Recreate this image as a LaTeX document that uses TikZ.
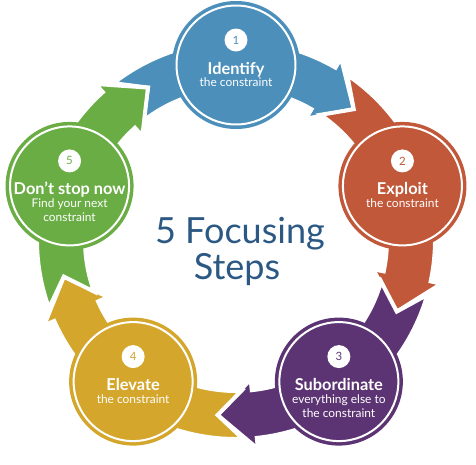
\documentclass[tikz,border=0pt]{standalone}
\usepackage{fontspec}
\setmainfont{Lato}
\usetikzlibrary{positioning}
\definecolor{myblue}{RGB}{75,143,186}
\definecolor{myorange}{RGB}{192,88,57}
\definecolor{mypurple}{RGB}{92,52,115}
\definecolor{myyellow}{RGB}{212,166,44}
\definecolor{mygreen}{RGB}{106,173,69}
\definecolor{mynavy}{RGB}{44,88,132}

\begin{document}
\begin{tikzpicture}[
  x=0.02cm, y=0.02cm,
  myarrow/.style={
    fill=#1,
    draw=white,
    line width=0.08cm,
    line join=miter
    },
  mycircle/.style={
    circle,
    fill=#1,
    draw=white,
    line width=0.04cm,
    minimum size=2.38cm,
    inner sep=0
    },
  mybadge/.style={
    circle,
    fill=white,
    text=#1,
    minimum size=0.46cm,
    inner sep=0,
    font=\fontsize{6.5}{6.5}\selectfont
    },
  mylabel/.style={
    text=white,
    anchor=base,
    inner sep=0,
    font=\bfseries\fontsize{9.3}{9.3}\selectfont
    },
  mysub/.style={
    text=white,
    anchor=base,
    inner sep=0,
    font=\fontsize{6.8}{6.8}\selectfont
    },
  mybig/.style={
    text=mynavy,
    anchor=base,
    inner sep=0,
    font=\fontsize{20.5}{20.5}\selectfont
  }
]

\useasboundingbox (-236,-224) rectangle (240,240);

\foreach \ang/\col in {90/myblue, 18/myorange, -54/mypurple, -126/myyellow, 162/mygreen}
    \filldraw[myarrow=\col] (\ang+38:199) arc[start angle=\ang+38, end angle=\ang-30, radius=199]
        -- (\ang-30:210) -- (\ang-42:176) -- (\ang-30:140) -- (\ang-30:151)
        arc[start angle=\ang-30, end angle=\ang+38, radius=151] -- (\ang+30:176) -- cycle;

\foreach \n/\ang/\col/\ttl/\subA/\subB in {1/90/myblue/Identify/the constraint/{},
    2/18/myorange/Exploit/the constraint/{},
    3/-54/mypurple/Subordinate/everything else to/the constraint,
    4/-126/myyellow/Elevate/the constraint/{},
    5/162/mygreen/Don't stop now/Find your next/constraint} {
    \fill[\col] (\ang:175) circle (64);
    \node [mycircle=\col] (c\n) at (\ang:175) {};
    \node [mybadge=\col] (b\n) at ([yshift=0.5cm]c\n.center) {\n};
    \node [mylabel] (t\n) at ([yshift=-0.18cm]c\n.center) {\ttl};
    \node [mysub] (s\n) at ([yshift=-0.44cm]c\n.center) {\subA};
    \node [mysub] (u\n) at ([yshift=-0.71cm]c\n.center) {\subB};
}

\node [mybig] (focus) at (4,-3) {5 Focusing};
\node [mybig] (steps) at (1,-39) {Steps};
\end{tikzpicture}
\end{document}
